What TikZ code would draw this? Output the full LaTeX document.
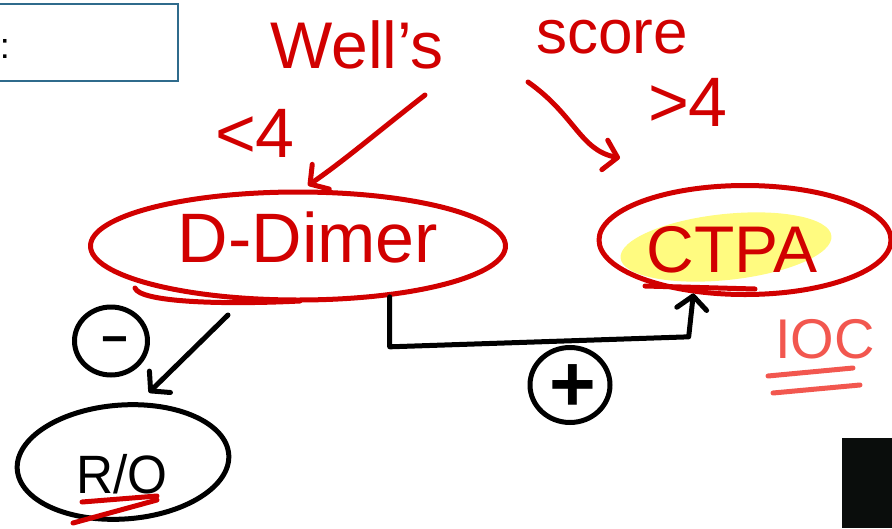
\documentclass[tikz,border=0pt]{standalone}
\usepackage{fontspec}
\setmainfont{Liberation Sans}
\usetikzlibrary{shapes.geometric,arrows.meta,calc}
\definecolor{hred}{HTML}{D10000}
\definecolor{hsalmon}{HTML}{F2574F}
\definecolor{hyel}{HTML}{FFFB80}
\definecolor{hbox}{HTML}{2F6B8C}
\definecolor{hblk}{HTML}{0A0D0C}
\begin{document}
\begin{tikzpicture}[x=1pt,y=-1pt,
  pen/.style={line width=5pt, line cap=round, line join=round},
  redpen/.style={pen, draw=hred},
  blkpen/.style={pen, draw=black},
  hand/.style={font=\fontsize{#1}{#1}\selectfont, inner sep=0pt, anchor=base},
  tipx/.style={-{Straight Barb[length=13pt,width=30pt,round]}},
  oval/.style={ellipse, inner sep=0pt, pen}
]
\useasboundingbox (0,0) rectangle (892,528);
% top-left box
\node[draw=hbox, line width=1.5pt, minimum width=183, minimum height=77, inner sep=0pt] (box) at (86.5,42.5) {};
\node[hand=36, text=black] (colon) at (5,58) {:};
% highlight
\node[ellipse, fill=hyel, minimum width=212, minimum height=66, rotate=6, inner sep=0pt] (hl) at (726,247) {};
% ovals
\node[oval, draw=hred, minimum width=415, minimum height=108] (ddimer) at (298,246) {};
\node[oval, draw=hred, minimum width=292, minimum height=109] (ctpa) at (745,240) {};
\node[oval, draw=black, minimum width=212, minimum height=114, rotate=4] (ro) at (123,462) {};
\node[oval, draw=black, minimum width=73, minimum height=68] (minus) at (111,341) {};
\node[oval, draw=black, minimum width=80, minimum height=75] (plus) at (570,385) {};
% texts
\node[hand=66, text=hred] (wells) at (357,68) {Well's};
\node[hand=62, text=hred] (score) at (612,53) {score};
\node[hand=70, text=hred] (lt) at (255,157) {<4};
\node[hand=70, text=hred] (gt) at (688,126) {>4};
\node[hand=70, text=hred] (ddtext) at (308,262) {D-Dimer};
\node[hand=66, text=hred] (ctpatext) at (732,272) {CTPA};
\node[hand=54, text=black, xscale=0.95] (rotext) at (122,493) {R/O};
\node[hand=56, text=hsalmon] (ioc) at (825,358) {IOC};
\node[font=\fontsize{46}{46}\selectfont\bfseries, inner sep=0pt] (mtext) at ($(minus)+(4,5)$) {−};
\node[font=\fontsize{80}{80}\selectfont\bfseries, inner sep=0pt] (ptext) at ($(plus)+(3,3)$) {+};
% underlines
\draw[redpen] (135,288) .. controls (140,302) and (220,305) .. (300,301);
\draw[redpen] (645,286) -- (755,289);
\draw[redpen] (82,502) -- (157,496);
\draw[redpen] (73,523) -- (157,500);
\draw[pen, draw=hsalmon] (768,376) -- (853,368);
\draw[pen, draw=hsalmon] (773,393) -- (860,385);
% red arrows
\coordinate (wa) at (425,95);
\coordinate (sa) at (528,82);
\draw[redpen, tipx] (wa) .. controls (380,130) and (345,160) .. ($(ddimer.north)+(10,-4)$);
\draw[redpen, tipx] (sa) .. controls (575,115) and (580,150) .. ($(ctpa.center)+(-125,-82)$);
% black arrows
\coordinate (d1) at (228,315);
\draw[blkpen, tipx] (d1) -- ($(ro.north)+(30,-10)$);
\draw[blkpen, tipx] (ddimer.-29) -- ++(0,50) -- ++(299,-10) -- (ctpa.-134);
% black block
\node[fill=hblk, minimum width=50, minimum height=90, inner sep=0pt, anchor=north west] (blk) at (842,438) {};
\end{tikzpicture}
\end{document}
